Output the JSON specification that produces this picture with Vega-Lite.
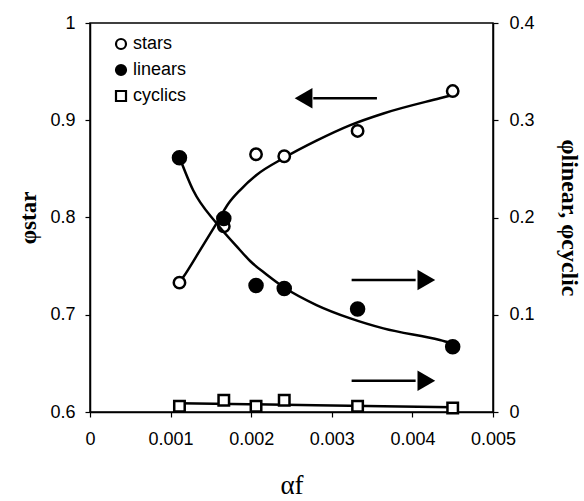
{
  "$schema": "https://vega.github.io/schema/vega-lite/v6.json",
  "autosize": {"type": "none"},
  "padding": {"left": 90, "top": 23, "right": 91, "bottom": 89},
  "width": 403,
  "height": 389,
  "background": "white",
  "config": {
    "view": {"stroke": "black", "strokeWidth": 1.5},
    "axis": {
      "grid": false,
      "labelFlush": false,
      "domainColor": "black",
      "domainWidth": 1.5,
      "tickColor": "black",
      "tickSize": 5,
      "tickWidth": 1.2,
      "labelFont": "Liberation Sans",
      "labelFontSize": 18,
      "labelColor": "black",
      "titleColor": "black"
    },
    "legend": {
      "labelFont": "Liberation Sans",
      "labelFontSize": 18,
      "labelColor": "black",
      "symbolStrokeWidth": 2.2
    }
  },
  "datasets": {
    "pts": [
      {"series": "stars", "x": 0.00111, "y": 0.733},
      {"series": "stars", "x": 0.00166, "y": 0.791},
      {"series": "stars", "x": 0.00206, "y": 0.865},
      {"series": "stars", "x": 0.00241, "y": 0.863},
      {"series": "stars", "x": 0.00332, "y": 0.889},
      {"series": "stars", "x": 0.0045, "y": 0.930},
      {"series": "linears", "x": 0.00111, "y": 0.2615},
      {"series": "linears", "x": 0.00166, "y": 0.199},
      {"series": "linears", "x": 0.00206, "y": 0.130},
      {"series": "linears", "x": 0.00241, "y": 0.127},
      {"series": "linears", "x": 0.00332, "y": 0.106},
      {"series": "linears", "x": 0.0045, "y": 0.067},
      {"series": "cyclics", "x": 0.00111, "y": 0.006},
      {"series": "cyclics", "x": 0.00166, "y": 0.012},
      {"series": "cyclics", "x": 0.00206, "y": 0.006},
      {"series": "cyclics", "x": 0.00241, "y": 0.012},
      {"series": "cyclics", "x": 0.00332, "y": 0.006},
      {"series": "cyclics", "x": 0.0045, "y": 0.004}
    ],
    "fit": [
      {"series": "stars", "x": 0.00111, "y": 0.733},
      {"series": "stars", "x": 0.00116, "y": 0.739},
      {"series": "stars", "x": 0.00137, "y": 0.767},
      {"series": "stars", "x": 0.00157, "y": 0.794},
      {"series": "stars", "x": 0.00172, "y": 0.8146},
      {"series": "stars", "x": 0.00186, "y": 0.828},
      {"series": "stars", "x": 0.00207, "y": 0.844},
      {"series": "stars", "x": 0.0024, "y": 0.861},
      {"series": "stars", "x": 0.00281, "y": 0.879},
      {"series": "stars", "x": 0.00323, "y": 0.895},
      {"series": "stars", "x": 0.00364, "y": 0.907},
      {"series": "stars", "x": 0.00434, "y": 0.9226},
      {"series": "stars", "x": 0.0045, "y": 0.926},
      {"series": "linears", "x": 0.00111, "y": 0.262},
      {"series": "linears", "x": 0.00128, "y": 0.228},
      {"series": "linears", "x": 0.00157, "y": 0.194},
      {"series": "linears", "x": 0.00186, "y": 0.1666},
      {"series": "linears", "x": 0.00199, "y": 0.155},
      {"series": "linears", "x": 0.00219, "y": 0.1415},
      {"series": "linears", "x": 0.00242, "y": 0.1275},
      {"series": "linears", "x": 0.00281, "y": 0.110},
      {"series": "linears", "x": 0.00323, "y": 0.0963},
      {"series": "linears", "x": 0.00364, "y": 0.086},
      {"series": "linears", "x": 0.00434, "y": 0.074},
      {"series": "linears", "x": 0.0045, "y": 0.0705},
      {"series": "cyclics", "x": 0.00111, "y": 0.009},
      {"series": "cyclics", "x": 0.0028, "y": 0.007},
      {"series": "cyclics", "x": 0.0045, "y": 0.005}
    ],
    "arrows": [
      {"side": "left", "x": 0.00277, "x2": 0.00356, "y": 0.9226, "hx": 0.00265},
      {"side": "right", "x": 0.003246, "x2": 0.00404, "y": 0.1357, "hx": 0.004173},
      {"side": "right", "x": 0.003246, "x2": 0.00404, "y": 0.0322, "hx": 0.004173}
    ]
  },
  "encoding": {
    "x": {
      "field": "x",
      "type": "quantitative",
      "scale": {"domain": [0, 0.005], "nice": false, "zero": false},
      "axis": {
        "values": [0, 0.001, 0.002, 0.003, 0.004, 0.005],
        "format": "~g",
        "labelPadding": 13,
        "title": "αf",
        "titleFont": "Liberation Serif",
        "titleFontSize": 27,
        "titleFontWeight": "normal",
        "titlePadding": 24
      }
    }
  },
  "layer": [
    {
      "encoding": {
        "y": {
          "field": "y",
          "type": "quantitative",
          "scale": {"domain": [0.6, 1], "nice": false, "zero": false},
          "axis": {
            "orient": "left",
            "values": [0.6, 0.7, 0.8, 0.9, 1],
            "format": "~g",
            "labelPadding": 10,
            "title": "φstar",
            "titleFont": "Liberation Serif",
            "titleFontSize": 23,
            "titleFontWeight": "bold",
            "titlePadding": 9
          }
        }
      },
      "layer": [
        {
          "data": {"name": "fit"},
          "transform": [{"filter": "datum.series === 'stars'"}],
          "mark": {"type": "line", "color": "black", "strokeWidth": 2.5, "interpolate": "monotone"},
          "encoding": {"detail": {"field": "series"}}
        },
        {
          "data": {"name": "arrows"},
          "transform": [{"filter": "datum.side === 'left'"}],
          "mark": {"type": "rule", "color": "black", "strokeWidth": 2.5},
          "encoding": {"x2": {"field": "x2"}}
        },
        {
          "data": {"name": "arrows"},
          "transform": [{"filter": "datum.side === 'left'"}],
          "mark": {"type": "point", "shape": "triangle-left", "filled": true, "color": "black", "size": 420, "opacity": 1},
          "encoding": {"x": {"field": "hx", "type": "quantitative"}}
        },
        {
          "data": {"name": "pts"},
          "transform": [{"filter": "datum.series === 'stars'"}],
          "mark": {"type": "point", "filled": true, "strokeWidth": 2.5, "size": 130, "opacity": 1},
          "encoding": {
            "shape": {
              "field": "series", "type": "nominal",
              "scale": {"domain": ["stars", "linears", "cyclics"], "range": ["circle", "circle", "square"]},
              "legend": {
                "title": null, "orient": "none", "legendX": 22, "legendY": 12,
                "symbolSize": 100, "rowPadding": 6, "labelOffset": 3, "padding": 0
              }
            },
            "fill": {
              "field": "series", "type": "nominal",
              "scale": {"domain": ["stars", "linears", "cyclics"], "range": ["white", "black", "white"]},
              "legend": {
                "title": null, "orient": "none", "legendX": 22, "legendY": 12,
                "symbolSize": 100, "rowPadding": 6, "labelOffset": 3, "padding": 0
              }
            },
            "stroke": {
              "field": "series", "type": "nominal",
              "scale": {"domain": ["stars", "linears", "cyclics"], "range": ["black", "black", "black"]},
              "legend": {
                "title": null, "orient": "none", "legendX": 22, "legendY": 12,
                "symbolSize": 100, "rowPadding": 6, "labelOffset": 3, "padding": 0
              }
            }
          }
        }
      ]
    },
    {
      "encoding": {
        "y": {
          "field": "y",
          "type": "quantitative",
          "scale": {"domain": [0, 0.4], "nice": false, "zero": false},
          "axis": {
            "orient": "right",
            "values": [0, 0.1, 0.2, 0.3, 0.4],
            "format": "~g",
            "labelPadding": 11,
            "title": "φlinear, φcyclic",
            "titleFont": "Liberation Serif",
            "titleFontSize": 24,
            "titleFontWeight": "bold",
            "titlePadding": 22
          }
        }
      },
      "layer": [
        {
          "data": {"name": "fit"},
          "transform": [{"filter": "datum.series !== 'stars'"}],
          "mark": {"type": "line", "color": "black", "strokeWidth": 2.5, "interpolate": "monotone"},
          "encoding": {"detail": {"field": "series"}}
        },
        {
          "data": {"name": "arrows"},
          "transform": [{"filter": "datum.side === 'right'"}],
          "mark": {"type": "rule", "color": "black", "strokeWidth": 2.5},
          "encoding": {"x2": {"field": "x2"}}
        },
        {
          "data": {"name": "arrows"},
          "transform": [{"filter": "datum.side === 'right'"}],
          "mark": {"type": "point", "shape": "triangle-right", "filled": true, "color": "black", "size": 420, "opacity": 1},
          "encoding": {"x": {"field": "hx", "type": "quantitative"}}
        },
        {
          "data": {"name": "pts"},
          "transform": [{"filter": "datum.series === 'linears'"}],
          "mark": {"type": "point", "filled": true, "strokeWidth": 2.5, "size": 170, "opacity": 1},
          "encoding": {
            "shape": {"field": "series", "type": "nominal", "scale": {"domain": ["stars", "linears", "cyclics"], "range": ["circle", "circle", "square"]}},
            "fill": {"field": "series", "type": "nominal", "scale": {"domain": ["stars", "linears", "cyclics"], "range": ["white", "black", "white"]}},
            "stroke": {"field": "series", "type": "nominal", "scale": {"domain": ["stars", "linears", "cyclics"], "range": ["black", "black", "black"]}}
          }
        },
        {
          "data": {"name": "pts"},
          "transform": [{"filter": "datum.series === 'cyclics'"}],
          "mark": {"type": "point", "filled": true, "strokeWidth": 2.5, "size": 110, "opacity": 1},
          "encoding": {
            "shape": {"field": "series", "type": "nominal", "scale": {"domain": ["stars", "linears", "cyclics"], "range": ["circle", "circle", "square"]}},
            "fill": {"field": "series", "type": "nominal", "scale": {"domain": ["stars", "linears", "cyclics"], "range": ["white", "black", "white"]}},
            "stroke": {"field": "series", "type": "nominal", "scale": {"domain": ["stars", "linears", "cyclics"], "range": ["black", "black", "black"]}}
          }
        }
      ]
    }
  ],
  "resolve": {"scale": {"y": "independent"}}
}
